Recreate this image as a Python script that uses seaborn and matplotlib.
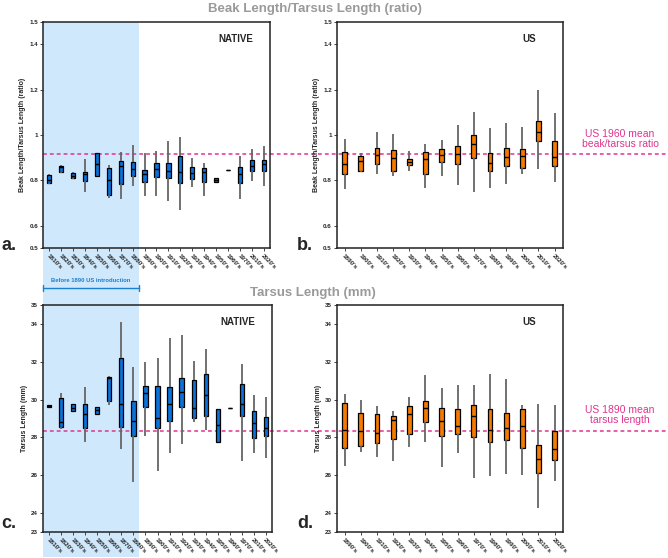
import numpy as np
import pandas as pd
import matplotlib.pyplot as plt
import seaborn as sns
from matplotlib.lines import Line2D
from matplotlib.patches import Rectangle


# ---- data: five-number summaries (min, q1, median, q3, max) per decade ----

native_decades = ["1810's", "1820's", "1830's", "1840's", "1850's", "1860's", "1870's",
                  "1880's", "1890's", "1900's", "1910's", "1920's", "1930's", "1940's",
                  "1950's", "1960's", "1970's", "2010's", "2020's"]
us_decades = ["1890's", "1900's", "1910's", "1920's", "1930's", "1940's", "1950's",
              "1960's", "1970's", "1980's", "1990's", "2000's", "2010's", "2020's"]

native_ratio = [
    (0.785, 0.790, 0.800, 0.822, 0.826),
    (0.832, 0.835, 0.860, 0.865, 0.868),
    (0.808, 0.809, 0.820, 0.834, 0.835),
    (0.750, 0.797, 0.828, 0.838, 0.893),
    (0.818, 0.819, 0.871, 0.919, 0.920),
    (0.724, 0.735, 0.800, 0.856, 0.868),
    (0.718, 0.782, 0.863, 0.885, 0.926),
    (0.777, 0.821, 0.849, 0.879, 0.956),
    (0.732, 0.794, 0.826, 0.846, 0.919),
    (0.731, 0.816, 0.851, 0.875, 0.931),
    (0.710, 0.809, 0.841, 0.875, 0.974),
    (0.669, 0.787, 0.835, 0.907, 0.990),
    (0.772, 0.806, 0.831, 0.857, 0.897),
    (0.731, 0.794, 0.835, 0.853, 0.875),
    (0.794, 0.794, 0.800, 0.810, 0.810),
    (0.846, 0.846, 0.846, 0.846, 0.846),
    (0.718, 0.790, 0.828, 0.860, 0.907),
    (0.797, 0.841, 0.865, 0.888, 0.938),
    (0.777, 0.841, 0.872, 0.888, 0.953),
]

us_ratio = [
    (0.763, 0.829, 0.871, 0.924, 0.981),
    (0.837, 0.843, 0.884, 0.906, 0.919),
    (0.829, 0.874, 0.912, 0.941, 1.012),
    (0.821, 0.843, 0.899, 0.934, 1.004),
    (0.840, 0.866, 0.881, 0.896, 0.929),
    (0.766, 0.829, 0.893, 0.924, 0.959),
    (0.821, 0.882, 0.910, 0.937, 0.978),
    (0.778, 0.871, 0.918, 0.951, 1.043),
    (0.747, 0.897, 0.959, 1.000, 1.100),
    (0.768, 0.840, 0.875, 0.919, 1.031),
    (0.782, 0.865, 0.904, 0.944, 1.051),
    (0.826, 0.854, 0.906, 0.937, 1.034),
    (0.849, 0.972, 1.015, 1.062, 1.197),
    (0.794, 0.863, 0.903, 0.972, 1.099),
]

native_tarsus = [
    (29.63, 29.63, 29.67, 29.72, 29.72),
    (28.45, 28.54, 28.84, 30.07, 30.33),
    (29.42, 29.42, 29.58, 29.75, 29.75),
    (27.78, 28.49, 29.23, 29.75, 30.65),
    (29.24, 29.24, 29.45, 29.63, 29.63),
    (29.72, 29.95, 31.13, 31.21, 31.25),
    (27.39, 28.57, 29.75, 32.18, 34.12),
    (25.63, 28.05, 28.89, 29.93, 31.71),
    (28.10, 29.63, 30.33, 30.74, 31.97),
    (26.25, 28.49, 29.05, 30.74, 32.18),
    (27.17, 28.87, 29.75, 30.69, 33.24),
    (27.64, 29.63, 30.39, 31.16, 33.42),
    (28.79, 29.01, 29.54, 31.04, 32.04),
    (28.40, 29.15, 30.25, 31.34, 32.66),
    (27.75, 27.75, 28.66, 29.49, 29.49),
    (29.58, 29.58, 29.58, 29.58, 29.58),
    (26.76, 29.15, 29.75, 30.83, 31.88),
    (27.20, 27.99, 28.75, 29.40, 30.23),
    (26.90, 28.05, 28.49, 29.07, 30.12),
]

us_tarsus = [
    (26.50, 27.46, 28.40, 29.81, 30.30),
    (27.25, 27.55, 28.33, 29.28, 29.98),
    (26.95, 27.71, 28.22, 29.24, 29.67),
    (26.76, 27.89, 28.91, 29.12, 29.40),
    (27.48, 28.20, 29.24, 29.67, 30.14),
    (27.78, 28.80, 29.56, 29.95, 31.32),
    (26.43, 28.06, 28.86, 29.56, 30.62),
    (27.17, 28.17, 28.61, 29.52, 30.76),
    (25.88, 28.01, 29.14, 29.72, 30.76),
    (25.97, 27.75, 28.40, 29.52, 31.36),
    (26.06, 27.87, 28.49, 29.31, 31.09),
    (25.99, 27.43, 28.61, 29.52, 29.74),
    (24.26, 26.14, 26.87, 27.61, 29.77),
    (25.72, 26.80, 27.38, 28.36, 29.72),
]

us_1960_ratio = 0.918
us_1890_tarsus = 28.36

ratio_ticks = [0.5, 0.6, 0.8, 1.0, 1.2, 1.4, 1.5]
ratio_ticklabels = ["0.5", "0.6", "0.8", "1", "1.2", "1.4", "1.5"]
tarsus_ticks = [23, 24, 26, 28, 30, 32, 34, 35]
tarsus_ticklabels = ["23", "24", "26", "28", "30", "32", "34", "35"]

BLUE = "#0b72d9"
ORANGE = "#f57a00"
SHADE = "#cfe8fb"
PINK = "#e0338f"
GREY = "#9a9a9a"

sns.set_style("ticks")
plt.rcParams['font.family'] = ['Liberation Sans', 'DejaVu Sans']

W, H = 668, 558
fig = plt.figure(figsize=(W / 100, H / 100), dpi=100, facecolor="white")


def px(x, y):
    # pixel position (from top-left) -> figure fraction
    return x / W, 1 - y / H


def long_form(decades, stats):
    rows = []
    for d, s in zip(decades, stats):
        for v in s:
            rows.append({"decade": d, "value": v})
    return pd.DataFrame(rows)


def draw_panel(ax, decades, stats, color, width, ylim, ticks, ticklabels, ylabel, tag):
    df = long_form(decades, stats)
    sns.boxplot(data=df, x="decade", y="value", order=decades, color=color,
                width=width, whis=(0, 100), showfliers=False, saturation=1,
                linewidth=0.9, linecolor="black",
                whiskerprops=dict(color="#666666", linewidth=1.3),
                capprops=dict(linewidth=0),
                medianprops=dict(color="black", linewidth=1.0),
                ax=ax)
    ax.set_facecolor("none")
    ax.set_ylim(*ylim)
    ax.set_xlim(-0.5, len(decades) - 0.5)
    ax.set_yticks(ticks)
    ax.set_yticklabels(ticklabels, fontsize=4.5, fontweight="bold")
    ax.set_xticks(range(len(decades)))
    ax.set_xticklabels(decades, fontsize=4.5, fontweight="bold", rotation=-45,
                       ha="left", rotation_mode="anchor")
    ax.tick_params(axis="both", length=2, width=0.6, pad=1.5)
    ax.set_xlabel("")
    ax.set_ylabel(ylabel, fontsize=5, fontweight="bold", labelpad=2)
    for sp in ax.spines.values():
        sp.set_visible(True)
        sp.set_linewidth(1.1)
        sp.set_color("#222222")
    ax.text(0.85, 0.925, tag, transform=ax.transAxes, fontsize=7, fontweight="bold",
            ha="center", va="center")


ax_a = fig.add_axes([43 / W, 1 - 248.3 / H, 227 / W, 226.6 / H])
ax_b = fig.add_axes([336.7 / W, 1 - 248.3 / H, 226 / W, 226.6 / H])
ax_c = fig.add_axes([43 / W, 1 - 532 / H, 229 / W, 227 / H])
ax_d = fig.add_axes([336.7 / W, 1 - 532 / H, 226 / W, 227 / H])

ratio_label = "Beak Length/Tarsus Length (ratio)"
tarsus_label = "Tarsus Length (mm)"

draw_panel(ax_a, native_decades, native_ratio, BLUE, 0.35, (0.5, 1.5),
           ratio_ticks, ratio_ticklabels, ratio_label, "NATIVE")
draw_panel(ax_b, us_decades, us_ratio, ORANGE, 0.3, (0.5, 1.5),
           ratio_ticks, ratio_ticklabels, ratio_label, "US")
draw_panel(ax_c, native_decades, native_tarsus, BLUE, 0.35, (23, 35),
           tarsus_ticks, tarsus_ticklabels, tarsus_label, "NATIVE")
draw_panel(ax_d, us_decades, us_tarsus, ORANGE, 0.3, (23, 35),
           tarsus_ticks, tarsus_ticklabels, tarsus_label, "US")

# shaded "before introduction" band, running through both native panels
pos_a = ax_a.get_position()
band_right = pos_a.x0 + pos_a.width * 8 / len(native_decades)
fig.add_artist(Rectangle((pos_a.x0, 0.002), band_right - pos_a.x0, pos_a.y1 - 0.002,
                         transform=fig.transFigure, facecolor=SHADE,
                         edgecolor="none", zorder=-2))

# reference lines, spanning from the native panel to the right edge
to_fig = fig.transFigure.inverted()
for ax, val in [(ax_a, us_1960_ratio), (ax_c, us_1890_tarsus)]:
    yf = to_fig.transform(ax.transData.transform((0, val)))[1]
    fig.add_artist(Line2D([ax.get_position().x0, 1.0], [yf, yf],
                          transform=fig.transFigure, color=PINK, lw=1.1,
                          linestyle=(0, (2.5, 2)), zorder=-1))

fig.text(*px(620, 139), "US 1960 mean\nbeak/tarsus ratio", color=PINK,
         fontsize=7.5, ha="center", va="center", linespacing=1.1)
fig.text(*px(620, 415), "US 1890 mean\ntarsus length", color=PINK,
         fontsize=7.5, ha="center", va="center", linespacing=1.1)

# section titles
fig.text(*px(315, 9), ratio_label, color=GREY, fontsize=9.5, fontweight="bold",
         ha="center", va="center")
fig.text(*px(313, 293), tarsus_label, color=GREY, fontsize=9.5, fontweight="bold",
         ha="center", va="center")

# panel letters
for (x, y), letter in [((1, 245), "a."), ((297, 245), "b."),
                       ((1, 523), "c."), ((297, 523), "d.")]:
    fig.text(*px(x, y), letter, fontsize=13, fontweight="bold", ha="left", va="center")

# bracket + label for the introduction period
x0 = pos_a.x0
bx = [x0, band_right]
by = px(0, 288)[1]
tick_h = 3 / H
fig.add_artist(Line2D(bx, [by, by], transform=fig.transFigure, color="#1b7fd0", lw=1))
for xx in bx:
    fig.add_artist(Line2D([xx, xx], [by - tick_h, by + tick_h],
                          transform=fig.transFigure, color="#1b7fd0", lw=1))
fig.text((bx[0] + bx[1]) / 2, px(0, 281)[1], "Before 1890 US introduction",
         color="#1b7fd0", fontsize=4.2, fontweight="bold", ha="center", va="center")

fig.savefig("out.png", dpi=100, facecolor="white")
